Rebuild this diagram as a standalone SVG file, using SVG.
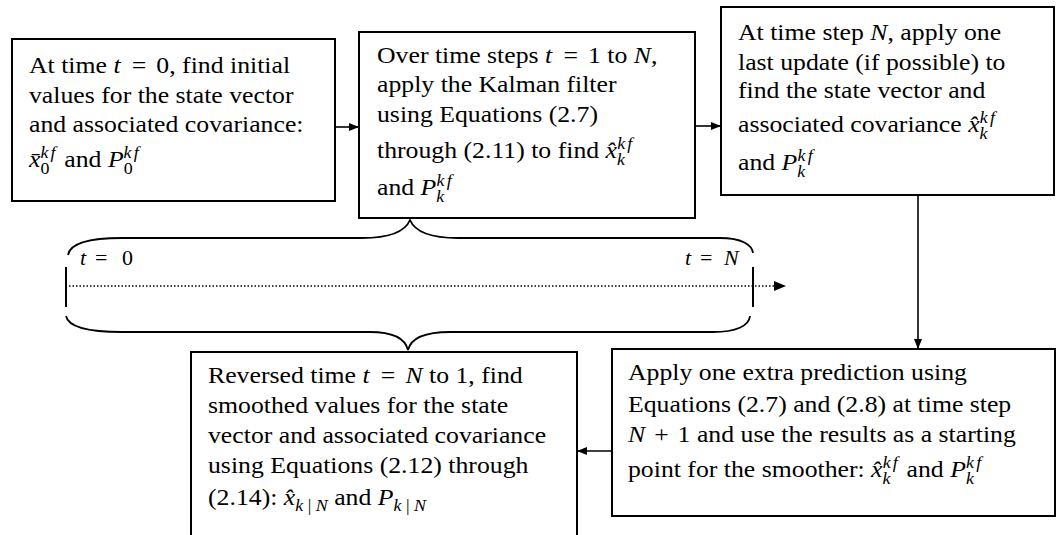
<svg xmlns="http://www.w3.org/2000/svg" width="1057" height="535" viewBox="0 0 1057 535">
<style>
.box{fill:#fff;stroke:#000;stroke-width:2}
.t{font-family:"Liberation Serif","Times New Roman",serif;font-size:23px;fill:#000}
.i{font-style:italic}
.s{font-size:16px}
.k{letter-spacing:2px}
.ln{fill:none;stroke:#000;stroke-width:1.6}
.br{fill:none;stroke:#000;stroke-width:1.8}
.lab{font-family:"Liberation Serif","Times New Roman",serif;font-size:22px;fill:#000}
</style>
<defs>
<marker id="ah" markerWidth="10" markerHeight="8" refX="10" refY="4" orient="auto" markerUnits="userSpaceOnUse">
<path d="M0,0 L10,4 L0,8 z" fill="#000"/>
</marker>
</defs>

<g id="connectors">
<line class="ln" x1="335" y1="127" x2="359" y2="127" marker-end="url(#ah)"/>
<line class="ln" x1="695" y1="126" x2="721" y2="126" marker-end="url(#ah)"/>
<line class="ln" x1="918" y1="195" x2="918" y2="349" marker-end="url(#ah)"/>
<line class="ln" x1="612" y1="451" x2="577" y2="451" marker-end="url(#ah)"/>
</g>

<g id="timeline">
<path class="br" d="M68,255 C70,243 90,238 122,238 L362,238 C388,238 405,232 410,220 C415,232 432,238 458,238 L720,238 C742,238 752,245 753,253"/>
<path class="br" d="M66,316 C68,326 86,332 122,332 L370,332 C392,332 405,338 408,350 C411,338 426,332 450,332 L713,332 C736,332 749,326 750,316"/>
<line x1="66" y1="267" x2="66" y2="307" stroke="#000" stroke-width="2"/>
<line x1="753" y1="267" x2="753" y2="307" stroke="#000" stroke-width="2"/>
<line x1="69" y1="286" x2="776" y2="286" stroke="#000" stroke-width="1.5" stroke-dasharray="1.5 2"/>
<path d="M774,281 L786,286 L774,291 z" fill="#000"/>
<text class="lab"><tspan class="i" x="80" y="265">t</tspan><tspan x="95" y="265">=</tspan><tspan x="122" y="265">0</tspan></text>
<text class="lab"><tspan class="i" x="685" y="265">t</tspan><tspan x="700" y="265">=</tspan><tspan class="i" x="724" y="265">N</tspan></text>
</g>

<g id="node1">
<rect class="box" x="12" y="39" width="323" height="162"/>
<text class="t" transform="translate(29 0) scale(1.12 1)">
<tspan x="0" y="73">At time <tspan class="i">t</tspan><tspan dx="10">=</tspan><tspan dx="9">0</tspan>, find initial</tspan>
<tspan x="0" y="103">values for the state vector</tspan>
<tspan x="0" y="132">and associated covariance:</tspan>
<tspan x="0" y="167"><tspan class="i">x̄</tspan><tspan class="s" dy="7">0</tspan><tspan class="s i k" dx="-8" dy="-16">kf</tspan><tspan dy="9"> and </tspan><tspan class="i">P</tspan><tspan class="s" dy="7">0</tspan><tspan class="s i k" dx="-8" dy="-16">kf</tspan></tspan>
</text>
</g>

<g id="node2">
<rect class="box" x="359" y="32" width="336" height="186"/>
<text class="t" transform="translate(377 0) scale(1.12 1)">
<tspan x="0" y="63">Over time steps <tspan class="i">t</tspan><tspan dx="10">=</tspan><tspan dx="9">1</tspan> to <tspan class="i">N</tspan>,</tspan>
<tspan x="0" y="92">apply the Kalman filter</tspan>
<tspan x="0" y="122">using Equations (2.7)</tspan>
<tspan x="0" y="158">through (2.11) to find <tspan class="i">x̂</tspan><tspan class="s i" dy="7">k</tspan><tspan class="s i k" dx="-7" dy="-16">kf</tspan></tspan>
<tspan x="0" y="195">and <tspan class="i">P</tspan><tspan class="s i" dy="7">k</tspan><tspan class="s i k" dx="-7" dy="-16">kf</tspan></tspan>
</text>
</g>

<g id="node3">
<rect class="box" x="721" y="7" width="333" height="188"/>
<text class="t" transform="translate(738 0) scale(1.12 1)">
<tspan x="0" y="40">At time step <tspan class="i">N</tspan>, apply one</tspan>
<tspan x="0" y="70">last update (if possible) to</tspan>
<tspan x="0" y="98">find the state vector and</tspan>
<tspan x="0" y="132">associated covariance <tspan class="i">x̂</tspan><tspan class="s i" dy="7">k</tspan><tspan class="s i k" dx="-7" dy="-16">kf</tspan></tspan>
<tspan x="0" y="170">and <tspan class="i">P</tspan><tspan class="s i" dy="7">k</tspan><tspan class="s i k" dx="-7" dy="-16">kf</tspan></tspan>
</text>
</g>

<g id="node4">
<rect class="box" x="191" y="352" width="386" height="200"/>
<text class="t" transform="translate(208 0) scale(1.12 1)">
<tspan x="0" y="383">Reversed time <tspan class="i">t</tspan><tspan dx="10">=</tspan><tspan class="i" dx="9">N</tspan> to 1, find</tspan>
<tspan x="0" y="413">smoothed values for the state</tspan>
<tspan x="0" y="443">vector and associated covariance</tspan>
<tspan x="0" y="473">using Equations (2.12) through</tspan>
<tspan x="0" y="505">(2.14): <tspan class="i">x̂</tspan><tspan class="s" dy="6"><tspan class="i">k</tspan> | <tspan class="i">N</tspan></tspan><tspan dy="-6"> and </tspan><tspan class="i">P</tspan><tspan class="s" dy="6"><tspan class="i">k</tspan> | <tspan class="i">N</tspan></tspan></tspan>
</text>
</g>

<g id="node5">
<rect class="box" x="612" y="349" width="443" height="167"/>
<text class="t" transform="translate(628 0) scale(1.12 1)">
<tspan x="0" y="380">Apply one extra prediction using</tspan>
<tspan x="0" y="412">Equations (2.7) and (2.8) at time step</tspan>
<tspan x="0" y="442"><tspan class="i">N</tspan><tspan dx="8">+</tspan><tspan dx="8">1</tspan> and use the results as a starting</tspan>
<tspan x="0" y="477">point for the smoother: <tspan class="i">x̂</tspan><tspan class="s i" dy="7">k</tspan><tspan class="s i k" dx="-7" dy="-16">kf</tspan><tspan dy="9"> and </tspan><tspan class="i">P</tspan><tspan class="s i" dy="7">k</tspan><tspan class="s i k" dx="-7" dy="-16">kf</tspan></tspan>
</text>
</g>
</svg>
